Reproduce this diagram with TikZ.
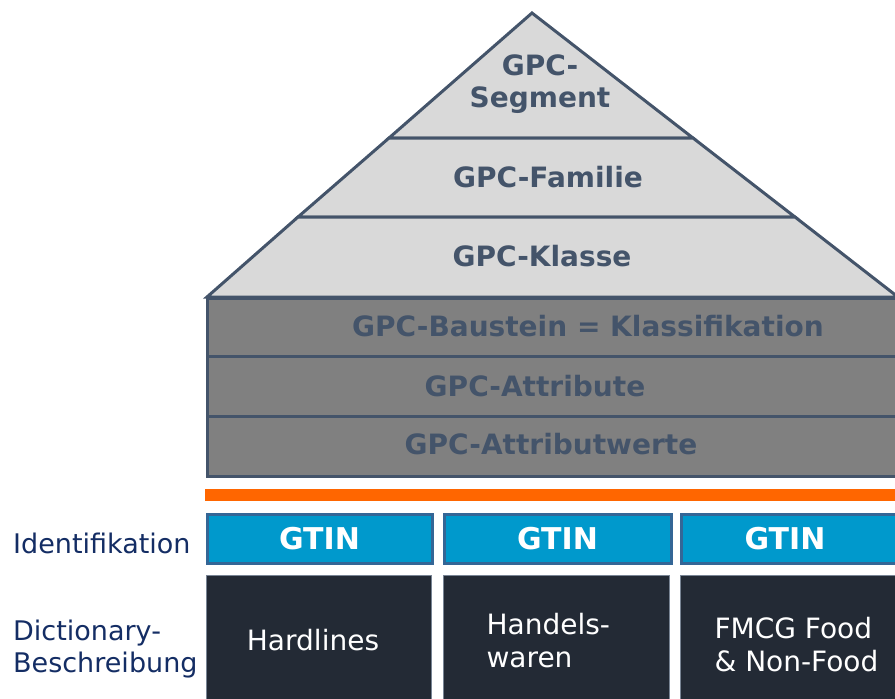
\documentclass[tikz,border=0pt]{standalone}
\usepackage{fontspec}
\setmainfont{DejaVu Sans}
\definecolor{slate}{RGB}{68,84,106}
\definecolor{lightlvl}{RGB}{217,217,217}
\definecolor{darklvl}{RGB}{128,128,128}
\definecolor{orangebar}{RGB}{255,102,0}
\definecolor{gtinfill}{RGB}{0,153,204}
\definecolor{gtinedge}{RGB}{52,102,150}
\definecolor{dictfill}{RGB}{35,42,53}
\definecolor{dictedge}{RGB}{120,132,148}
\definecolor{navy}{RGB}{20,45,100}
\tikzset{
  lvltext/.style={font=\bfseries\fontsize{28}{32}\selectfont, text=slate, align=center},
  pyrlvl/.style={fill=lightlvl, draw=slate, line width=3pt, line join=miter},
  baselvl/.style={fill=darklvl, draw=slate, line width=3pt},
  gtinbox/.style={fill=gtinfill, draw=gtinedge, line width=3pt, minimum height=49pt,
    inner sep=0pt, text=white, font=\bfseries\fontsize{30}{34}\selectfont},
  dictbox/.style={fill=dictfill, draw=dictedge, line width=0.8pt, inner sep=0pt,
    minimum height=140pt, text=white},
  dicttext/.style={text=white, font=\fontsize{28}{33}\selectfont, align=left},
  sidetext/.style={text=navy, font=\fontsize{27}{32}\selectfont, align=left, anchor=west, inner sep=0pt}
}
\begin{document}
\begin{tikzpicture}[x=1pt,y=-1pt]
  \useasboundingbox (0,0) rectangle (895,699);
  \clip (0,0) rectangle (895,699);

  % pyramid: three stacked levels
  \coordinate (apex) at (532,13);
  \coordinate (l1) at (389,138);  \coordinate (r1) at (693,138);
  \coordinate (l2) at (298,217);  \coordinate (r2) at (795,217);
  \coordinate (l3) at (207,297);  \coordinate (r3) at (898,297);
  \filldraw[pyrlvl] (apex) -- (r1) -- (l1) -- cycle;
  \filldraw[pyrlvl] (l1) -- (r1) -- (r2) -- (l2) -- cycle;
  \filldraw[pyrlvl] (l2) -- (r2) -- (r3) -- (l3) -- cycle;
  \node[lvltext] (segment) at (540,84) {GPC-\\Segment};
  \node[lvltext] (familie) at (548,177) {GPC-Familie};
  \node[lvltext] (klasse) at (542,256) {GPC-Klasse};

  % base block: brick, attributes, attribute values
  \filldraw[baselvl] (207,298) rectangle (910,356);
  \filldraw[baselvl] (207,356) rectangle (910,416);
  \filldraw[baselvl] (207,416) rectangle (910,476);
  \node[lvltext] (baustein) at (588,326) {GPC-Baustein = Klassifikation};
  \node[lvltext] (attribute) at (535,386) {GPC-Attribute};
  \node[lvltext] (werte) at (551,444) {GPC-Attributwerte};

  % orange separator
  \fill[orangebar] (205,489) rectangle (900,501);

  % identification row
  \node[sidetext] (ident) at (13,543) {Identifikation};
  \node[gtinbox, minimum width=225pt] (gtinA) at (319.5,539) {GTIN};
  \node[gtinbox, minimum width=227pt] (gtinB) at (557.5,539) {GTIN};
  \node[gtinbox, minimum width=230pt] (gtinC) at (796,539) {};
  \node[text=white, font=\bfseries\fontsize{30}{34}\selectfont] (gtinCtext) at (785,539) {GTIN};

  % dictionary row
  \node[sidetext] (dict) at (13,649) {Dictionary-\\Beschreibung};
  \node[dictbox, minimum width=225pt, anchor=north west] (hard) at (206,575) {};
  \node[dictbox, minimum width=226pt, anchor=north west] (handel) at (443,575) {};
  \node[dictbox, minimum width=240pt, anchor=north west] (fmcg) at (680,575) {};
  \node[dicttext] (hardtext) at (313,640) {Hardlines};
  \node[dicttext, anchor=west] (handeltext) at (483,641) {Handels-\\waren};
  \node[dicttext, anchor=west] (fmcgtext) at (711,645) {FMCG Food\\\& Non-Food};
\end{tikzpicture}
\end{document}
